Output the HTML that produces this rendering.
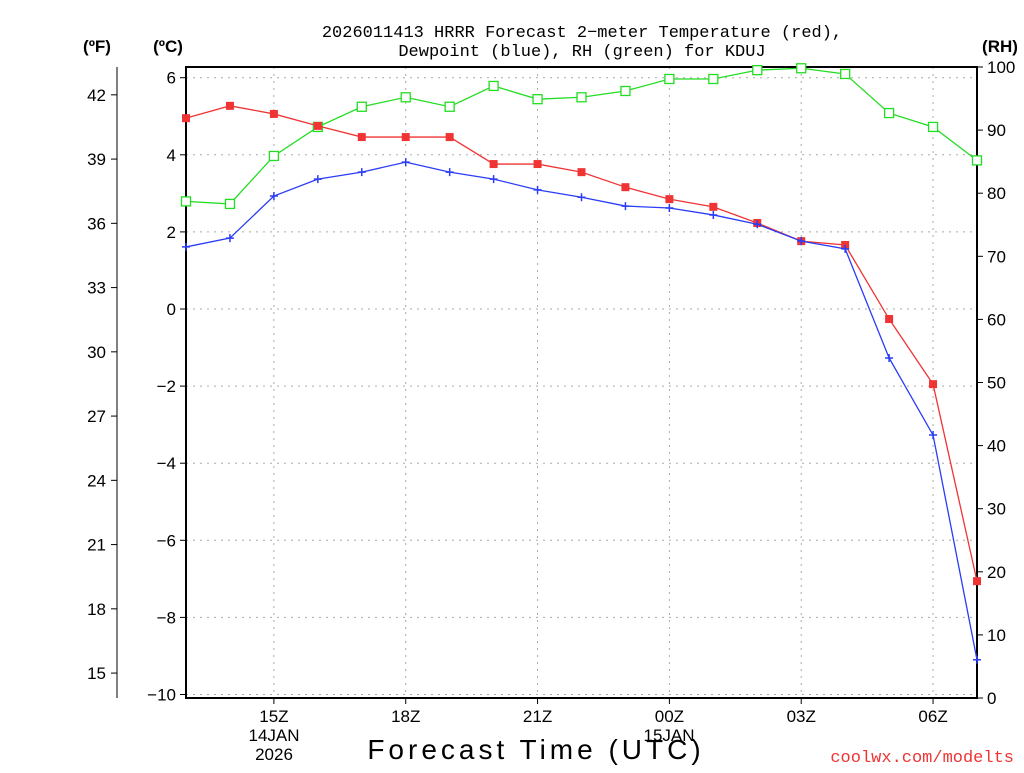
<!DOCTYPE html>
<html><head><meta charset="utf-8"><style>
body{margin:0;background:#fff;width:1024px;height:768px;overflow:hidden}
svg text{font-family:"Liberation Sans",sans-serif}
svg text.mono{font-family:"Liberation Mono",monospace}
</style></head><body>
<svg id="c" width="1024" height="768" xmlns="http://www.w3.org/2000/svg"></svg>
<script>
const hours=["13Z","14Z","15Z","16Z","17Z","18Z","19Z","20Z","21Z","22Z","23Z","00Z","01Z","02Z","03Z","04Z","05Z","06Z","07Z"];
const tempC=[4.95,5.27,5.06,4.75,4.46,4.46,4.46,3.76,3.76,3.55,3.16,2.85,2.65,2.23,1.76,1.66,-0.26,-1.95,-7.06];
const dewC=[1.61,1.84,2.93,3.37,3.55,3.81,3.55,3.37,3.09,2.9,2.67,2.62,2.44,2.2,1.76,1.56,-1.27,-3.27,-9.1];
const rh=[78.7,78.3,85.9,90.5,93.7,95.2,93.7,97,94.9,95.2,96.2,98.1,98.1,99.5,99.8,98.9,92.7,90.5,85.2];
const cTicks=[6,4,2,0,-2,-4,-6,-8,-10];
const fTicks=[42,39,36,33,30,27,24,21,18,15];
const rhTicks=[100,90,80,70,60,50,40,30,20,10,0];
const xLabels=[[2,"15Z"],[5,"18Z"],[8,"21Z"],[11,"00Z"],[14,"03Z"],[17,"06Z"]];

const L=186,R=977,T=67,B=698;
const x=i=>L+i*(R-L)/(hours.length-1);
const yC=c=>309-c*38.55;
const yF=f=>yC((f-32)*5/9);
const yR=v=>B-v*(B-T)/100;
const svg=document.getElementById('c');
const NS="http://www.w3.org/2000/svg";
function el(tag,attrs,txt){const e=document.createElementNS(NS,tag);for(const k in attrs)e.setAttribute(k,attrs[k]);if(txt!==undefined)e.textContent=txt;svg.appendChild(e);return e;}

cTicks.forEach(c=>{const g=el('line',{x1:L,x2:R,y1:yC(c),y2:yC(c),stroke:'#aaa','stroke-dasharray':'2,5'});

});
xLabels.forEach(([i])=>{const g=el('line',{x1:x(i),x2:x(i),y1:T,y2:B,stroke:'#aaa','stroke-dasharray':'2,5'});

});
const fr=el('rect',{x:L,y:T,width:R-L,height:B-T,fill:'none',stroke:'#000','stroke-width':2});


cTicks.forEach(c=>{el('line',{x1:L-6,x2:L,y1:yC(c),y2:yC(c),stroke:'#000'});
const t=el('text',{x:L-10,y:yC(c)+6,'text-anchor':'end','font-size':17},String(c).replace('-','\u2212'));

});
el('line',{x1:117,x2:117,y1:T,y2:B,stroke:'#000'});
fTicks.forEach(f=>{el('line',{x1:111,x2:117,y1:yF(f),y2:yF(f),stroke:'#000'});
const t=el('text',{x:106,y:yF(f)+6,'text-anchor':'end','font-size':17},f);

});
rhTicks.forEach(v=>{el('line',{x1:R,x2:R+6,y1:yR(v),y2:yR(v),stroke:'#000'});
const t=el('text',{x:R+10,y:yR(v)+6,'font-size':17},v);

});
xLabels.forEach(([i,l])=>{el('line',{x1:x(i),x2:x(i),y1:B,y2:B+6,stroke:'#000'});
const t=el('text',{x:x(i),y:722,'text-anchor':'middle','font-size':17},l);

});
[[274,741,"14JAN"],[274,760,"2026"],[669,741,"15JAN"]].forEach(([a,b,s])=>{const t=el('text',{x:a,y:b,'text-anchor':'middle','font-size':17},s);

});
function series(vals,yf,col,name,mk){
 const p=el('polyline',{points:vals.map((v,i)=>x(i)+','+yf(v)).join(' '),fill:'none',stroke:col,'stroke-width':1.3});
 
 
 vals.forEach((v,i)=>{let m;const X=x(i),Y=yf(v);
  if(mk==='fill')m=el('rect',{x:X-4,y:Y-4,width:8,height:8,fill:col});
  else if(mk==='open')m=el('rect',{x:X-4.5,y:Y-4.5,width:9,height:9,fill:'#fff',stroke:col,'stroke-width':1.3});
  else m=el('path',{d:`M${X-4} ${Y}H${X+4}M${X} ${Y-4}V${Y+4}`,stroke:col,'stroke-width':1.5});
  
  });
}
series(rh,yR,'#22dd22','rh','open');
series(tempC,yC,'#f03434','temperature','fill');
series(dewC,yC,'#2a3cf5','dewpoint','plus');
[[582,37,"2026011413 HRRR Forecast 2\u2212meter Temperature (red),"],[582,56,"Dewpoint (blue), RH (green) for KDUJ"]].forEach(([a,b,s])=>{const t=el('text',{x:a,y:b,'text-anchor':'middle','font-size':17,'class':'mono'},s);

});
[[97,52,"(ºF)"],[168,52,"(ºC)"],[1000,52,"(RH)"]].forEach(([a,b,s])=>{const t=el('text',{x:a,y:b,'text-anchor':'middle','font-size':17,'font-weight':'bold'},s);

});
const xt=el('text',{x:536,y:759,'text-anchor':'middle','font-size':28,'letter-spacing':'4'},"Forecast Time (UTC)");


const cr=el('text',{x:1014,y:762,'text-anchor':'end','font-size':17,fill:'#f03434','class':'mono'},"coolwx.com/modelts");


</script>
</body></html>
